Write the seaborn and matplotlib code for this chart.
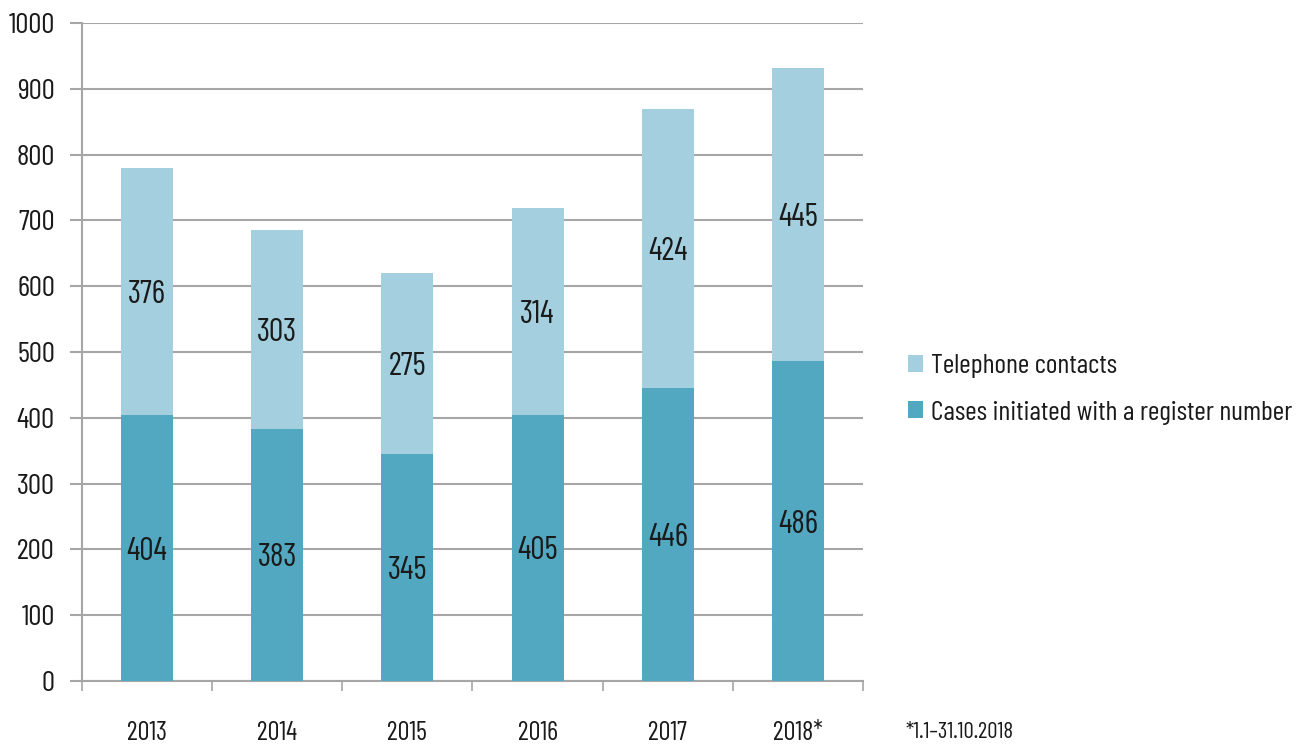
import matplotlib
matplotlib.use("Agg")
import matplotlib.pyplot as plt
import seaborn as sns
import numpy as np
import pandas as pd

years = ["2013", "2014", "2015", "2016", "2017", "2018*"]
cases = [404, 383, 345, 405, 446, 486]
phone = [376, 303, 275, 314, 424, 445]
series_names = ["Telephone contacts", "Cases initiated with a register number"]
footnote = "*1.1\u201331.10.2018"

light = "#A3CFDE"
dark = "#51A8C0"
grid = "#A6A6A6"
ink = "#1a1a1a"

sns.set_theme(style="white")
plt.rcParams["font.family"] = ["Barlow Condensed", "DejaVu Sans"]

df = pd.DataFrame({"year": years, "cases": cases, "phone": phone})
df["total"] = df["cases"] + df["phone"]

fig = plt.figure(figsize=(13.03, 7.45), dpi=100)
ax = fig.add_axes([82 / 1303, 1 - 681 / 745, (863 - 82) / 1303, (681 - 23) / 745])

# stacked bars: full total in light, register-number cases on top in dark
sns.barplot(data=df, x="year", y="total", color=light, width=0.4, ax=ax,
            saturation=1, label=series_names[0], zorder=3, linewidth=0)
sns.barplot(data=df, x="year", y="cases", color=dark, width=0.4, ax=ax,
            saturation=1, label=series_names[1], zorder=3, linewidth=0)

for i, (c, p) in enumerate(zip(cases, phone)):
    ax.text(i, c / 2, str(c), ha="center", va="center_baseline", fontsize=23, color=ink, zorder=4)
    ax.text(i, c + p / 2, str(p), ha="center", va="center_baseline", fontsize=23, color=ink, zorder=4)

ax.set_ylim(0, 1000)
ax.set_xlim(-0.5, len(years) - 0.5)
ax.set_yticks(np.arange(0, 1001, 100))
ax.yaxis.grid(True, color=grid, linewidth=1.5, zorder=0)
ax.set_axisbelow(True)
ax.tick_params(axis="y", length=8.5, width=1.5, color=grid, labelsize=21, pad=11, left=True,
               labelcolor=ink)
ax.tick_params(axis="x", length=0, labelsize=19, pad=29, labelcolor=ink)
ax.set_xticks(np.arange(-0.5, len(years), 1.0), minor=True)
ax.tick_params(axis="x", which="minor", length=7, width=1.2, color=grid, bottom=True)
ax.set_xlabel("")
ax.set_ylabel("")

for side in ["top", "right"]:
    ax.spines[side].set_visible(False)
for side in ["left", "bottom"]:
    ax.spines[side].set_color(grid)
    ax.spines[side].set_linewidth(1.5)

handles, labels = ax.get_legend_handles_labels()
leg = ax.legend(handles, labels, loc="center left", bbox_to_anchor=(1.025, 0.443),
                frameon=False, fontsize=20, handlelength=0.55, handleheight=0.55,
                handletextpad=0.3, labelspacing=0.8, labelcolor=ink)

fig.text(905 / 1303, 1 - 732 / 745, footnote, fontsize=16.5, ha="left", va="center", color=ink)

fig.savefig("out.png", dpi=100)
